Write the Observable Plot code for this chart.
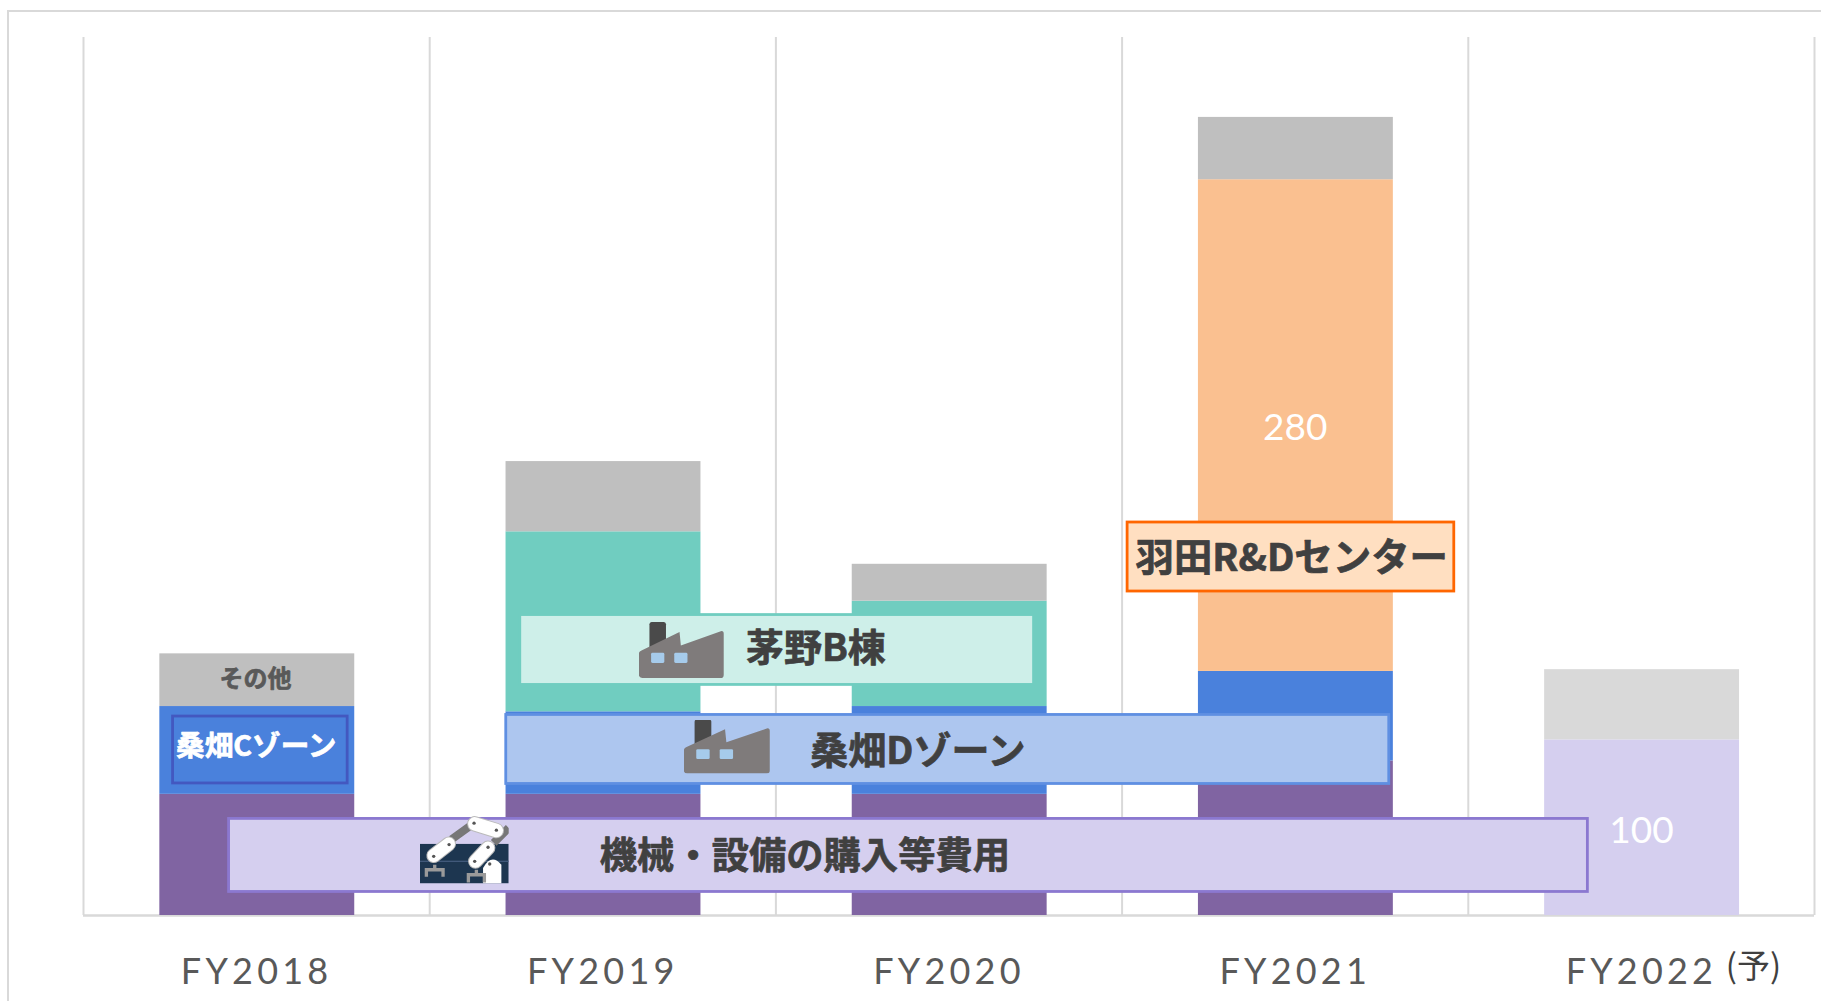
<!DOCTYPE html>
<html lang="ja">
<head>
<meta charset="utf-8">
<title>FY2018-FY2022</title>
<script src="https://cdn.jsdelivr.net/npm/d3@7"></script>
<script src="https://cdn.jsdelivr.net/npm/@observablehq/plot@0.6"></script>
<style>
  html, body { margin: 0; padding: 0; background: #fff; overflow: hidden; }
  #sheet { position: absolute; left: 7px; top: 10px; right: 0; bottom: 0; border-left: 2.5px solid #d9d9d9; border-top: 2.5px solid #d9d9d9; }
  #chart { position: absolute; left: 0; top: 0; }
  #chart svg { background: transparent; display: block; }
  #chart g[aria-label="x-axis tick label"] text { letter-spacing: 4.2px; }
</style>
</head>
<body>
<div id="sheet"></div>
<div id="chart"></div>
<script>
// ---- data ----
const years = ["FY2018", "FY2019", "FY2020", "FY2021", "FY2022"];
const equipment = [69, 69, 69, 88, 0];
const kuwabataZones = [50, 47, 50, 51, 0];
const chinoB = [0, 102.5, 60, 0, 0];
const hanedaRD = [0, 0, 0, 280, 0];
const others = [30, 40, 21, 35.5, 0];
const equipmentPlan = [0, 0, 0, 0, 100];
const othersPlan = [0, 0, 0, 0, 40];
const seriesNames = ["機械・設備の購入等費用", "桑畑ゾーン", "茅野B棟", "羽田R&Dセンター", "その他", "機械・設備（予）", "その他（予）"];
const seriesValues = [equipment, kuwabataZones, chinoB, hanedaRD, others, equipmentPlan, othersPlan];
const valueLabels = {"羽田R&Dセンター": "280", "機械・設備（予）": "100"};
const planMark = "(予)";
const calloutTexts = ["その他", "桑畑Cゾーン", "茅野B棟", "桑畑Dゾーン", "機械・設備の購入等費用", "羽田R&Dセンター"];

// ---- table built from the arrays ----
const rows = seriesNames.flatMap((s, k) => years.map((y, i) => ({
  year: y, index: i, series: s, value: seriesValues[k][i]
}))).filter(d => d.value > 0);

// ---- look ----
const colors = ["#8064a2", "#4a81dc", "#70cdc0", "#fac090", "#bfbfbf", "#d5cfef", "#d9d9d9"];
const barStart = 0.2205;
const barEnd = 0.7835;
const jp = "'Noto Sans CJK JP', 'Noto Sans', sans-serif";
const boxes = [
  {x1: 0.2587, x2: 0.7630, y1: 75.2, y2: 113.3, fill: "#4a81dc", stroke: "#4358c0"},
  {x1: 1.2616, x2: 2.7457, y1: 131.3, y2: 171.1, fill: "#ceefe9", stroke: "#70cdc0"},
  {x1: 1.2211, x2: 3.7717, y1: 74.9, y2: 114.2, fill: "#adc6ef", stroke: "#5f8fe2"},
  {x1: 0.4205, x2: 4.3454, y1: 13.4, y2: 55, fill: "#d5cfef", stroke: "#8b78d0"},
  {x1: 3.0159, x2: 3.9595, y1: 184.5, y2: 223.8, fill: "#ffdfc1", stroke: "#ff6600"}
];
const anchors = [
  {x: 0.4971, y: 134.4, size: 24, color: "#595959"},
  {x: 0.4990, y: 96.2, size: 28.6, color: "#ffffff"},
  {x: 2.1156, y: 151.7, size: 38, color: "#404040"},
  {x: 2.4104, y: 93.1, size: 38, color: "#404040"},
  {x: 2.0838, y: 33.4, size: 37.3, color: "#404040"},
  {x: 3.4900, y: 203.0, size: 38.4, color: "#404040"}
].map((d, i) => ({...d, text: calloutTexts[i]}));

const factorySvg = `<svg xmlns="http://www.w3.org/2000/svg" viewBox="0 0 257 167">
<rect x="32" y="0" width="50" height="80" rx="7" fill="#4a4a4a"/>
<path d="M8 85 L123 30 L127 70 L250 27 Q257 27 257 35 L257 157 Q257 167 247 167 L10 167 Q0 167 0 157 L0 95 Q0 88 8 85Z" fill="#7f7b7b"/>
<rect x="37" y="92" width="40" height="30" rx="4" fill="#a6cbeb"/><rect x="107" y="92" width="40" height="30" rx="4" fill="#a6cbeb"/></svg>`;
const robotSvg = `<svg xmlns="http://www.w3.org/2000/svg" viewBox="0 0 267 206">
<rect x="0" y="88" width="267" height="118" fill="#1d3650"/><rect x="0" y="138" width="267" height="4" fill="#41597a"/>
<g stroke-linecap="round" fill="none">
<path d="M95 75 L150 35 M222 85 L267 40" stroke="#777" stroke-width="24" stroke-linecap="butt"/>
<path d="M165 28 L230 48" stroke="#bbb" stroke-width="46"/><path d="M165 28 L230 48" stroke="#fff" stroke-width="40"/>
<path d="M42 123 L87 88" stroke="#bbb" stroke-width="44"/><path d="M42 123 L87 88" stroke="#fff" stroke-width="38"/>
<path d="M167 140 L205 100" stroke="#bbb" stroke-width="44"/><path d="M167 140 L205 100" stroke="#fff" stroke-width="38"/>
</g>
<path d="M190 206 L190 160 Q215 115 245 150 L245 206Z" fill="#fff"/>
<path d="M20 186 L20 165 L70 165 L70 186 M45 165 L45 150" stroke="#9a9a9a" stroke-width="10" fill="none"/>
<path d="M146 203 L146 180 L194 180 L194 203 M170 180 L170 165" stroke="#9a9a9a" stroke-width="10" fill="none"/>
<g fill="#555"><circle cx="163" cy="26" r="5"/><circle cx="230" cy="47" r="5"/><circle cx="42" cy="125" r="5"/><circle cx="88" cy="90" r="5"/><circle cx="165" cy="140" r="5"/><circle cx="205" cy="98" r="5"/><circle cx="210" cy="148" r="5"/></g></svg>`;
const uri = s => "data:image/svg+xml;utf8," + encodeURIComponent(s);
const icons = [
  {x: 1.7269, y: 151.2, w: 85, h: 56, src: uri(factorySvg)},
  {x: 1.8584, y: 96.2, w: 86, h: 54, src: uri(factorySvg)},
  {x: 1.0997, y: 37.9, w: 89, h: 69, src: uri(robotSvg)}
];

const plot = Plot.plot({
  width: 1821,
  height: 1001,
  marginLeft: 83,
  marginRight: 7,
  marginTop: 37,
  marginBottom: 86,
  style: {background: "transparent", overflow: "visible"},
  x: {domain: [0, years.length], axis: null},
  y: {domain: [0, 500], axis: null},
  color: {type: "ordinal", domain: seriesNames, range: colors},
  marks: [
    Plot.ruleX(d3.range(years.length + 1), {y1: 0, y2: 500, stroke: "#d9d9d9", strokeWidth: 2}),
    Plot.ruleY([0], {stroke: "#d9d9d9", strokeWidth: 2.5}),
    Plot.rectY(rows, Plot.stackY({
      x1: d => d.index + barStart, x2: d => d.index + barEnd,
      y: "value", z: "series", fill: "series", order: seriesNames
    })),
    Plot.text(rows, Plot.stackY({
      x: d => d.index + 0.5, y: "value", z: "series", order: seriesNames,
      text: d => valueLabels[d.series] ?? null,
      fill: "#ffffff", fontSize: 37, fontFamily: "Lato, sans-serif", dy: 3
    })),
    Plot.axisX({
      ticks: years.map((_, i) => i + 0.5), tickFormat: v => years[Math.floor(v)],
      tickSize: 0, tickPadding: 43, fontSize: 36, fontFamily: "Lato, sans-serif",
      color: "#595959", label: null, anchor: "bottom"
    }),
    Plot.text([planMark], {
      x: years.length - 0.5, y: 0, dx: 112, dy: 52, fontSize: 33,
      fontFamily: jp, fill: "#404040"
    }),
    Plot.rect(boxes, {x1: "x1", x2: "x2", y1: "y1", y2: "y2", fill: "fill", stroke: "stroke", strokeWidth: 2.8}),
    Plot.image(icons, {x: "x", y: "y", width: "w", height: "h", src: "src", preserveAspectRatio: "none"}),
    Plot.text(anchors, {
      x: "x", y: "y", text: "text", fill: "color", stroke: "color", strokeWidth: 0.7, fontSize: "size",
      fontFamily: jp, fontWeight: 700, lineAnchor: "middle"
    })
  ]
});
document.getElementById("chart").appendChild(plot);
</script>
</body>
</html>
